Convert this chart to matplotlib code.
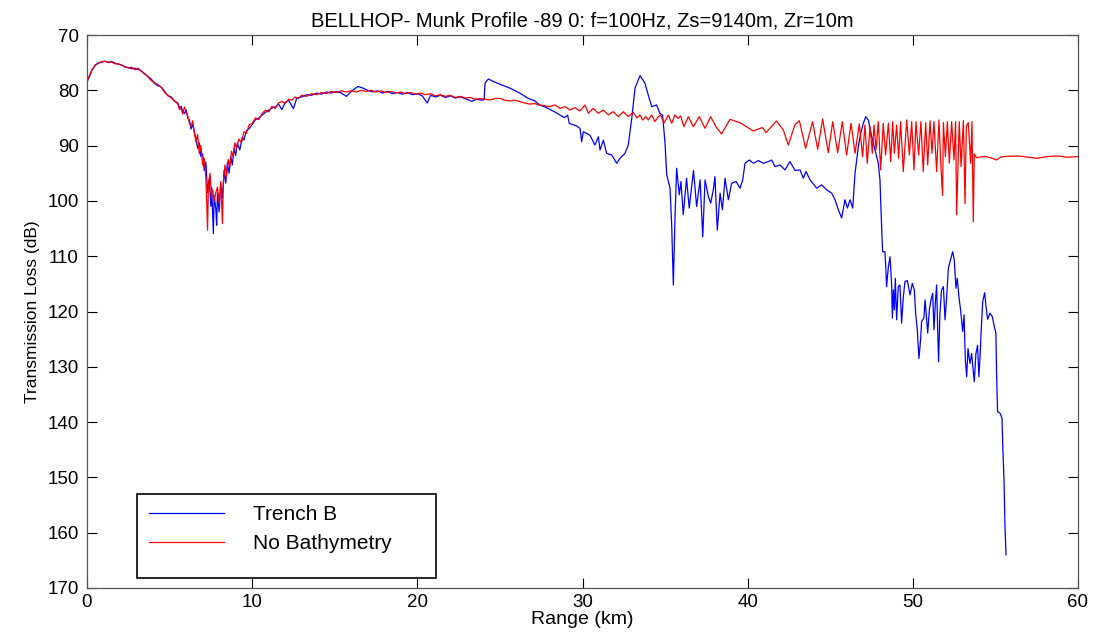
import matplotlib
matplotlib.use("Agg")
import matplotlib.pyplot as plt
from matplotlib.patches import Rectangle

# ── Data ──
# Trench B (blue)
trench_km = [
    0.0, 0.15, 0.3, 0.5, 0.7, 0.9, 1.1, 1.3, 1.5, 1.7, 1.9, 2.1, 2.3, 2.5, 2.7, 2.9,
    3.1, 3.3, 3.5, 3.7, 3.9, 4.1, 4.3, 4.5, 4.7, 4.9, 5.1, 5.3, 5.5, 5.6, 5.7, 5.8,
    5.9, 6.0, 6.1, 6.2, 6.3, 6.4, 6.5, 6.6, 6.7, 6.8, 6.9, 7.0, 7.1, 7.2, 7.3, 7.4,
    7.5, 7.55, 7.65, 7.7, 7.8, 7.85, 7.9, 8.0, 8.1, 8.2, 8.3, 8.4, 8.5, 8.6, 8.7, 8.8,
    8.9, 9.0, 9.1, 9.25, 9.4, 9.5, 9.65, 9.8, 10.0, 10.2, 10.4, 10.6, 10.8, 11.0, 11.2,
    11.4, 11.6, 11.8, 12.0, 12.2, 12.5, 12.7, 13.0, 13.3, 13.6, 13.9, 14.2, 14.5, 14.8,
    15.1, 15.4, 15.7, 16.0, 16.4, 16.7, 17.0, 17.3, 17.6, 17.9, 18.2, 18.5, 18.8, 19.1,
    19.4, 19.7, 20.0, 20.3, 20.6, 20.8, 21.1, 21.4, 21.7, 22.0, 22.3, 22.6, 22.9, 23.3,
    23.6, 23.9, 24.04,
    24.1, 24.3, 24.6, 25.0, 25.6, 26.2, 26.7, 27.1, 27.4, 27.8, 28.4, 28.9, 29.1, 29.2,
    29.65, 29.85, 29.95, 30.05, 30.45, 30.75, 30.96, 31.06, 31.26, 31.46, 31.77, 32.07,
    32.27, 32.57, 32.77, 32.98, 33.18, 33.48, 33.78, 33.98, 34.19, 34.49, 34.69, 34.85,
    34.99, 35.1, 35.3, 35.4, 35.5, 35.6, 35.7, 35.86, 35.96, 36.1, 36.3, 36.46, 36.72,
    36.91, 37.12, 37.28, 37.42, 37.62, 37.76, 37.92, 38.02, 38.16, 38.33, 38.47, 38.63,
    38.83, 39.03, 39.3, 39.54, 39.7, 39.84, 40.1, 40.34, 40.65, 40.95, 41.25, 41.45,
    41.66, 41.96, 42.26, 42.56, 42.87, 43.17, 43.37, 43.53, 43.78, 44.18, 44.48, 44.78,
    45.09, 45.29, 45.49, 45.69, 45.89, 46.04, 46.2, 46.36, 46.5, 46.7, 46.84, 47.0,
    47.15, 47.31, 47.51, 47.71, 47.91, 48.01, 48.11, 48.17, 48.31, 48.37, 48.41, 48.52,
    48.62, 48.72, 48.76, 48.82, 48.88, 48.94, 49.02, 49.12, 49.22, 49.32, 49.42, 49.52,
    49.67, 49.83, 49.97, 50.09, 50.17, 50.27, 50.37, 50.47, 50.53, 50.67, 50.74, 50.8,
    50.9, 51.0, 51.1, 51.2, 51.28, 51.36, 51.44, 51.52, 51.56, 51.64, 51.74, 51.85,
    51.95, 52.05, 52.15, 52.25, 52.41, 52.51, 52.61, 52.69, 52.79, 52.89, 53.02, 53.1,
    53.18, 53.26, 53.34, 53.46, 53.56, 53.66, 53.72, 53.82, 53.92, 54.0, 54.07, 54.13,
    54.23, 54.35, 54.43, 54.53, 54.67, 54.81, 54.93, 55.03, 55.07, 55.13, 55.28, 55.4,
    55.44, 55.52, 55.58, 55.64,
]
trench_tl = [
    78.5, 77.5, 76.4, 75.4, 75.1, 74.9, 74.7, 75.0, 74.8, 75.1, 75.3, 75.4, 75.8, 75.9, 76.1, 76.0,
    76.2, 76.5, 77.1, 77.5, 78.0, 78.8, 79.2, 79.4, 80.2, 81.0, 81.2, 82.0, 82.3, 83.2, 82.9, 83.8,
    84.2, 83.5, 85.0, 85.4, 87.0, 86.2, 87.5, 88.8, 90.5, 89.5, 92.0, 91.5, 94.5, 93.0, 98.5, 96.0,
    101.0, 97.5, 105.9, 99.0, 101.5, 104.4, 98.5, 102.0, 97.0, 99.5, 94.5, 96.8, 93.0, 95.0, 92.0, 93.5,
    90.5, 91.8, 89.5, 90.8, 88.5, 89.0, 87.3, 87.0, 86.2, 85.3, 85.0, 84.5, 84.0, 83.6, 83.2,
    83.0, 82.5, 83.5, 82.2, 81.8, 83.3, 81.4, 81.2, 80.8, 80.9, 80.5, 80.7, 80.3, 80.5,
    80.2, 80.5, 81.1, 80.2, 79.3, 79.6, 80.0, 80.3, 80.1, 80.5, 80.2, 80.6, 80.4, 80.7,
    80.4, 80.8, 80.6, 81.0, 82.3, 80.9, 81.2, 80.9, 81.3, 81.0, 81.4, 81.2, 81.5, 82.0,
    81.6, 81.8, 81.7,
    78.7, 77.95, 78.4, 78.9, 79.6, 80.5, 81.45, 81.9, 82.65, 83.1, 84.05, 84.95, 84.5, 86.0,
    86.45, 86.9, 89.3, 87.5, 88.1, 89.9, 88.4, 90.8, 89.0, 91.4, 91.7, 93.2,
    92.3, 91.4, 89.9, 85.1, 79.6, 77.35, 78.7, 80.85, 82.95, 82.65, 84.2, 84.5,
    89.3, 95.3, 97.7, 104.4, 115.2, 103.1, 94.1, 98.9, 96.5, 102.5, 95.9, 101.3, 94.5,
    101.0, 96.2, 106.5, 96.2, 99.2, 100.4, 98.0, 95.6, 105.3, 98.6, 101.6, 95.9,
    99.8, 96.8, 96.5, 97.7, 96.2, 93.2, 92.6, 93.2, 92.7, 93.2, 92.9, 92.6,
    93.8, 93.5, 94.4, 92.9, 94.5, 94.4, 95.9, 94.7, 96.2, 97.7, 97.1, 98.0,
    98.6, 99.8, 101.6, 103.1, 99.8, 101.3, 99.8, 101.3, 95.0, 90.2, 87.8, 86.0,
    84.76, 85.4, 88.4, 90.8, 93.2, 96.2, 104.7, 109.2, 109.2, 112.5, 115.5, 111.9,
    110.1, 115.5, 121.2, 116.1, 119.7, 114.0, 121.5, 115.5, 115.2, 122.1, 117.6, 114.6,
    114.4, 117.0, 114.9, 116.1, 120.3, 123.3, 128.5, 125.1, 121.8, 121.2, 117.9, 120.0,
    123.9, 119.7, 117.9, 116.7, 123.3, 118.5, 115.2, 125.1, 129.1, 120.3, 116.1, 115.5,
    121.5, 117.3, 112.2, 111.0, 109.2, 110.7, 115.8, 114.0, 117.3, 119.7, 123.6, 120.6,
    128.8, 131.8, 126.7, 129.4, 127.6, 130.9, 132.7, 127.6, 126.1, 131.8, 128.2, 123.9,
    118.2, 116.6, 119.1, 121.4, 120.3, 120.9, 122.7, 123.9, 131.2, 138.1, 138.4, 139.3,
    143.8, 150.5, 158.9, 164.0,
]

# No Bathymetry (red)
nobath_km = [
    0.0, 0.15, 0.3, 0.5, 0.7, 0.9, 1.1, 1.3, 1.5, 1.7, 1.9, 2.1, 2.3, 2.5, 2.7, 2.9,
    3.1, 3.3, 3.5, 3.7, 3.9, 4.1, 4.3, 4.5, 4.7, 4.9, 5.1, 5.3, 5.5, 5.6, 5.7, 5.8,
    5.9, 6.0, 6.1, 6.2, 6.3, 6.4, 6.5, 6.6, 6.7, 6.8, 6.9, 7.0, 7.1, 7.2, 7.3, 7.35,
    7.45, 7.55, 7.6, 7.7, 7.8, 7.9, 8.0, 8.1, 8.2, 8.25, 8.35, 8.45, 8.55, 8.65, 8.75,
    8.85, 8.95, 9.05, 9.2, 9.35, 9.5, 9.65, 9.8, 10.0, 10.2, 10.4, 10.6, 10.8, 11.0,
    11.2, 11.4, 11.6, 11.8, 12.0, 12.2, 12.4, 12.6, 12.8, 13.0, 13.3, 13.6, 13.9, 14.2,
    14.5, 14.8, 15.1, 15.4, 15.7, 16.0, 16.3, 16.6, 16.9, 17.2, 17.5, 17.8, 18.1, 18.4,
    18.7, 19.0, 19.3, 19.6, 19.9, 20.2, 20.5, 20.8, 21.1, 21.4, 21.7, 22.0, 22.3, 22.6,
    22.9, 23.2, 23.5, 23.8,
    24.1, 24.4, 24.7, 25.0, 25.3, 25.6, 25.9, 26.2, 26.5, 26.8, 27.1, 27.4, 27.7, 28.0,
    28.33, 28.63, 28.94, 29.24, 29.54, 29.84, 30.15, 30.35, 30.65, 30.95, 31.26, 31.56,
    31.86, 32.17, 32.47, 32.77, 33.07, 33.3,
    33.48, 33.64, 33.84, 33.98, 34.19, 34.39, 34.59, 34.73, 34.93, 35.2, 35.4, 35.6,
    35.8, 35.94, 36.14, 36.41, 36.71, 37.07, 37.42, 37.76, 38.08, 38.42, 38.93, 39.53,
    40.34, 40.75, 40.91, 41.11, 41.75, 42.16, 42.46, 42.86, 43.13, 43.51, 43.93, 44.24,
    44.54, 44.88, 45.15, 45.45, 45.73, 45.99, 46.26, 46.5, 46.76,
    46.96, 47.1, 47.24, 47.41, 47.55, 47.65, 47.77, 47.91, 48.05, 48.21, 48.35, 48.52,
    48.66, 48.78, 48.88, 49.02, 49.14, 49.26, 49.42, 49.63, 49.79, 49.93, 50.07, 50.19,
    50.35, 50.49, 50.63, 50.78, 50.9, 51.04, 51.16, 51.28, 51.44, 51.58, 51.7, 51.8,
    51.85, 51.97, 52.09, 52.21, 52.35, 52.49, 52.59, 52.65, 52.81, 52.92, 53.06, 53.16,
    53.24, 53.36, 53.5, 53.58, 53.66, 53.72,
    53.86, 54.2, 54.47, 54.8, 55.07, 55.3, 55.48, 56.0, 56.49, 57.0, 57.5, 58.1, 58.5,
    58.91, 59.31, 60.0,
]
nobath_tl = [
    78.3, 77.3, 76.3, 75.5, 75.0, 74.8, 74.8, 74.9, 74.9, 75.2, 75.2, 75.5, 75.7, 76.0, 75.8, 76.3,
    76.0, 76.6, 77.0, 77.6, 78.3, 78.6, 79.0, 79.5, 80.4, 80.9, 81.4, 81.9, 82.5, 83.5, 83.2, 84.3,
    83.0, 84.0, 84.6, 86.0, 86.5, 85.5, 87.8, 89.3, 88.0, 91.5, 90.0, 93.5, 92.3, 96.0, 105.3, 97.0,
    95.0, 99.5, 98.0, 100.0, 98.5, 97.5, 100.5, 96.5, 104.1, 97.0, 93.5, 95.5, 92.5, 93.8, 91.0,
    92.0, 89.5, 90.5, 88.8, 89.5, 87.5, 87.8, 86.3, 86.0, 85.0, 85.3, 84.2, 83.6, 83.9,
    82.9, 83.3, 82.3, 82.0, 82.4, 81.6, 81.8, 81.2, 81.5, 80.9, 81.1, 80.6, 80.8, 80.4,
    80.6, 80.2, 80.4, 80.1, 80.3, 80.1, 80.3, 80.0, 80.2, 80.0, 80.3, 80.1, 80.4, 80.2,
    80.5, 80.3, 80.6, 80.4, 80.7, 80.5, 80.8, 80.6, 81.0, 80.8, 81.1, 80.9, 81.3, 81.1,
    81.4, 81.3, 81.6, 81.5,
    81.6, 81.75, 81.5, 81.45, 81.8, 81.93, 81.8, 82.05, 82.3, 82.5, 82.4, 82.65, 82.8, 82.95,
    82.65, 83.26, 82.95, 83.56, 83.14, 83.74, 82.65, 84.16, 83.26, 84.16, 83.56, 84.46,
    83.86, 84.76, 83.86, 84.76, 84.0, 85.0,
    84.47, 85.37, 84.77, 85.37, 84.47, 85.67, 84.77, 84.47, 85.97, 84.47, 85.97, 84.47,
    85.07, 84.65, 86.58, 84.77, 86.58, 84.77, 86.88, 84.77, 86.58, 87.9, 85.25, 85.85,
    87.36, 86.88, 86.76, 87.66, 85.55, 87.18, 89.89, 86.27, 85.49, 90.49, 85.67, 90.67,
    85.19, 91.28, 85.67, 91.28, 85.67, 91.7, 85.97, 91.4, 86.09,
    92.0, 86.27, 93.2, 86.57, 91.4, 86.27, 90.79, 85.67, 94.41, 85.97, 91.7, 85.97,
    92.9, 85.67, 91.39, 86.27, 92.3, 85.67, 94.71, 85.37, 91.7, 85.67, 94.41, 85.67,
    91.7, 85.67, 94.71, 85.85, 93.5, 85.49, 91.39, 85.67, 94.71, 85.37, 93.8, 99.0,
    85.85, 92.0, 85.67, 93.2, 85.67, 92.6, 85.67, 102.5, 85.67, 93.8, 85.49, 100.5,
    86.5, 85.85, 93.2, 85.67, 103.8, 91.5,
    92.2, 92.0, 92.0, 92.3, 92.6, 92.1, 92.0, 91.9, 91.9, 92.1, 92.3, 92.0, 91.9,
    91.9, 92.1, 92.0,
]

x_ticks = [0, 10, 20, 30, 40, 50, 60]
y_ticks = [70, 80, 90, 100, 110, 120, 130, 140, 150, 160, 170]
series_labels = ["Trench B", "No Bathymetry"]
title = "BELLHOP- Munk Profile -89 0: f=100Hz, Zs=9140m, Zr=10m"

plt.rcParams['font.family'] = ['Liberation Sans', 'DejaVu Sans']

fig = plt.figure(figsize=(10.97, 6.36), dpi=100)
ax = fig.add_axes([87/1097, 1 - 588/636, 991/1097, 553/636])

ax.plot(trench_km, trench_tl, color='#0000ff', lw=0.9, label=series_labels[0])
ax.plot(nobath_km, nobath_tl, color='#ff0000', lw=0.9, label=series_labels[1])

ax.set_xlim(0, 60)
ax.set_ylim(170, 70)
ax.set_xticks(x_ticks)
ax.set_yticks(y_ticks)
ax.tick_params(direction='in', length=7, width=0.8, top=True, right=True,
               labelsize=13.5, colors='#000000')
ax.tick_params(axis='x', pad=4)
ax.tick_params(axis='y', pad=6)
for s in ax.spines.values():
    s.set_color('#555555'); s.set_linewidth(0.9)

ax.set_title(title, fontsize=14.5, pad=6)
ax.set_xlabel('Range (km)', fontsize=14, labelpad=0)
ax.set_ylabel('Transmission Loss (dB)', fontsize=12.5, labelpad=5)

# legend: MATLAB-style box with spare space underneath
box = Rectangle((50/991, 10/553), 299/991, 84/553, transform=ax.transAxes,
                facecolor='white', edgecolor='black', lw=1.2, zorder=4)
ax.add_patch(box)
leg = ax.legend(loc='upper left', bbox_to_anchor=(62/991, 83/553), frameon=False,
                fontsize=15, handlelength=3.6, handletextpad=1.4,
                labelspacing=0.48, borderpad=0, borderaxespad=0)
leg.set_zorder(5)

fig.savefig('out.png', dpi=100)
